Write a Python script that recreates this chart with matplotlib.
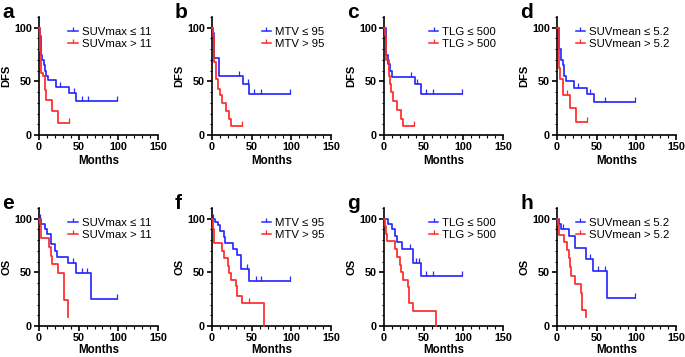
import numpy as np
import matplotlib
matplotlib.use("Agg")
import matplotlib.pyplot as plt
from matplotlib.lines import Line2D
from matplotlib.ticker import MultipleLocator

plt.rcParams['font.family'] = ['Liberation Sans', 'DejaVu Sans']

BLUE = '#2a2aff'
RED = '#ff2a2a'

panel_letters = ['a', 'b', 'c', 'd', 'e', 'f', 'g', 'h']
y_labels = ['DFS', 'DFS', 'DFS', 'DFS', 'OS', 'OS', 'OS', 'OS']
legend_lo = ['SUVmax ≤ 11', 'MTV ≤ 95', 'TLG ≤ 500', 'SUVmean ≤ 5.2',
             'SUVmax ≤ 11', 'MTV ≤ 95', 'TLG ≤ 500', 'SUVmean ≤ 5.2']
legend_hi = ['SUVmax > 11', 'MTV > 95', 'TLG > 500', 'SUVmean > 5.2',
             'SUVmax > 11', 'MTV > 95', 'TLG > 500', 'SUVmean > 5.2']
x_ticks = [0, 50, 100, 150]
y_ticks = [0, 50, 100]

# ---- a: DFS, SUVmax ----
a_lo_t = [0, 1, 2, 3, 4, 6, 8, 9, 11, 22, 38, 47, 98]
a_lo_s = [100, 92, 80, 75, 70, 65, 60, 55, 51, 45, 39, 32, 32]
a_lo_c = [27, 44, 54, 62, 98]
a_hi_t = [0, 1, 1.5, 2, 5, 8, 9, 17, 24, 38]
a_hi_s = [100, 90, 78, 58, 55, 42, 33, 22, 11, 11]
a_hi_c = [38]
# ---- b: DFS, MTV ----
b_lo_t = [0, 1, 2, 3, 9, 39, 47, 98]
b_lo_s = [100, 95, 86, 72, 55, 48, 38, 38]
b_lo_c = [34, 45, 53, 62, 98]
b_hi_t = [0, 1, 2, 5, 7, 10, 12, 18, 22, 24, 38]
b_hi_s = [100, 92, 68, 52, 43, 37, 30, 22, 15, 8, 8]
b_hi_c = [38]
# ---- c: DFS, TLG ----
c_lo_t = [0, 2, 3, 5, 8, 10, 39, 47, 98]
c_lo_s = [100, 90, 75, 66, 60, 54, 48, 38, 38]
c_lo_c = [34, 42, 53, 62, 98]
c_hi_t = [0, 1, 3, 6, 8, 9, 11, 17, 22, 24, 38]
c_hi_s = [100, 93, 70, 55, 48, 40, 32, 23, 15, 8, 8]
c_hi_c = [38]
# ---- d: DFS, SUVmean ----
d_lo_t = [0, 2, 3, 5, 7, 9, 11, 22, 38, 47, 98]
d_lo_s = [100, 85, 80, 70, 65, 55, 50, 44, 38, 31, 31]
d_lo_c = [27, 41, 60, 98]
d_hi_t = [0, 2, 3, 4, 8, 17, 24, 38]
d_hi_s = [100, 80, 62, 52, 37, 25, 12, 12]
d_hi_c = [12, 38]
# ---- e: OS, SUVmax ----
e_lo_t = [0, 3, 7, 10, 15, 20, 23, 37, 47, 65, 98]
e_lo_s = [100, 95, 90, 86, 76, 70, 64, 59, 49, 25, 25]
e_lo_c = [1, 43, 54, 60, 98]
e_hi_t = [0, 1, 2, 3, 12, 15, 17, 24, 31, 32, 37]
e_hi_s = [100, 95, 90, 82, 74, 65, 58, 49, 33, 24, 8]
e_hi_c = []
# ---- f: OS, MTV ----
f_lo_t = [0, 4, 8, 10, 15, 17, 26, 31, 37, 47, 98]
f_lo_s = [100, 97, 94, 89, 83, 77, 72, 66, 53, 42, 42]
f_lo_c = [1, 44, 56, 62, 98]
f_hi_t = [0, 1, 2, 3, 13, 15, 20, 22, 24, 30, 32, 38, 66]
f_hi_s = [100, 90, 83, 77, 70, 63, 56, 49, 43, 37, 28, 21, 0]
f_hi_c = [47]
# ---- g: OS, TLG ----
g_lo_t = [0, 5, 10, 14, 16, 23, 37, 47, 98]
g_lo_s = [100, 95, 90, 84, 78, 72, 59, 47, 47]
g_lo_c = [33, 40, 44, 53, 62, 98]
g_hi_t = [0, 1, 2, 4, 14, 17, 20, 22, 24, 30, 32, 37, 65]
g_hi_s = [100, 93, 86, 79, 72, 64, 57, 50, 43, 36, 21, 14, 0]
g_hi_c = []
# ---- h: OS, SUVmean ----
h_lo_t = [0, 2, 5, 15, 23, 36, 45, 63, 98]
h_lo_s = [100, 95, 90, 84, 73, 62, 51, 26, 26]
h_lo_c = [7, 41, 52, 60, 98]
h_hi_t = [0, 1, 3, 9, 13, 15, 17, 18, 23, 30, 31, 32, 37]
h_hi_s = [100, 94, 85, 78, 71, 63, 55, 47, 39, 31, 23, 15, 8]
h_hi_c = []

curves = [
    (a_lo_t, a_lo_s, a_lo_c, a_hi_t, a_hi_s, a_hi_c),
    (b_lo_t, b_lo_s, b_lo_c, b_hi_t, b_hi_s, b_hi_c),
    (c_lo_t, c_lo_s, c_lo_c, c_hi_t, c_hi_s, c_hi_c),
    (d_lo_t, d_lo_s, d_lo_c, d_hi_t, d_hi_s, d_hi_c),
    (e_lo_t, e_lo_s, e_lo_c, e_hi_t, e_hi_s, e_hi_c),
    (f_lo_t, f_lo_s, f_lo_c, f_hi_t, f_hi_s, f_hi_c),
    (g_lo_t, g_lo_s, g_lo_c, g_hi_t, g_hi_s, g_hi_c),
    (h_lo_t, h_lo_s, h_lo_c, h_hi_t, h_hi_s, h_hi_c),
]

W, H = 685, 357
fig = plt.figure(figsize=(W / 100, H / 100), dpi=100)

col_left = [39, 212, 384, 557]
ax_w = 119
row_top = [17, 208]
ax_h = 118


def draw_curve(ax, t, s, c, color):
    t = np.asarray(t, float)
    s = np.asarray(s, float)
    ax.step(t, s, where='post', color=color, lw=1.25, clip_on=False, zorder=3)
    if len(c):
        c = np.asarray(c, float)
        idx = np.searchsorted(t, c, side='right') - 1
        ax.plot(c, s[idx], linestyle='none', marker=2, markersize=3.5,
                markeredgewidth=0.9, color=color, clip_on=False, zorder=3)


for i in range(8):
    r, col = divmod(i, 4)
    left = col_left[col] / W
    bottom = (H - row_top[r] - ax_h) / H
    ax = fig.add_axes([left, bottom, ax_w / W, ax_h / H])
    lo_t, lo_s, lo_c, hi_t, hi_s, hi_c = curves[i]
    draw_curve(ax, lo_t, lo_s, lo_c, BLUE)
    draw_curve(ax, hi_t, hi_s, hi_c, RED)
    ax.set_xlim(0, 150)
    ax.set_ylim(0, 110)
    ax.set_xticks(x_ticks)
    ax.set_yticks(y_ticks)
    ax.yaxis.set_minor_locator(MultipleLocator(10))
    ax.xaxis.set_minor_locator(MultipleLocator(10))
    for sp in ['top', 'right']:
        ax.spines[sp].set_visible(False)
    for sp in ['left', 'bottom']:
        ax.spines[sp].set_linewidth(1.2)
    ax.tick_params(axis='both', which='major', length=3.5, width=1.2,
                   labelsize=7.8, pad=1.5)
    ax.tick_params(axis='both', which='minor', length=1.8, width=0.8)
    for lab in ax.get_xticklabels() + ax.get_yticklabels():
        lab.set_fontweight('bold')
    ax.set_xlabel('Months', fontsize=8.3, fontweight='bold',
                  labelpad=2 if r == 0 else 1)
    ax.set_ylabel(y_labels[i], fontsize=8, fontweight='bold', labelpad=2)
    handles = [Line2D([0], [0], color=BLUE, lw=1.1, marker=2, markersize=3,
                      markeredgewidth=0.9),
               Line2D([0], [0], color=RED, lw=1.1, marker=2, markersize=3,
                      markeredgewidth=0.9)]
    ax.legend(handles, [legend_lo[i], legend_hi[i]], loc='upper right',
              bbox_to_anchor=(1.0, 0.97), frameon=False, fontsize=8.2,
              handlelength=0.8, handletextpad=0.35, labelspacing=0.15,
              borderpad=0.1)
    lx = (col_left[col] - 37) / W
    ly = 1 - (row_top[r] - 14) / H
    fig.text(lx, ly, panel_letters[i], fontsize=15, fontweight='bold',
             va='top', ha='left')

fig.savefig('out.png', dpi=100)
